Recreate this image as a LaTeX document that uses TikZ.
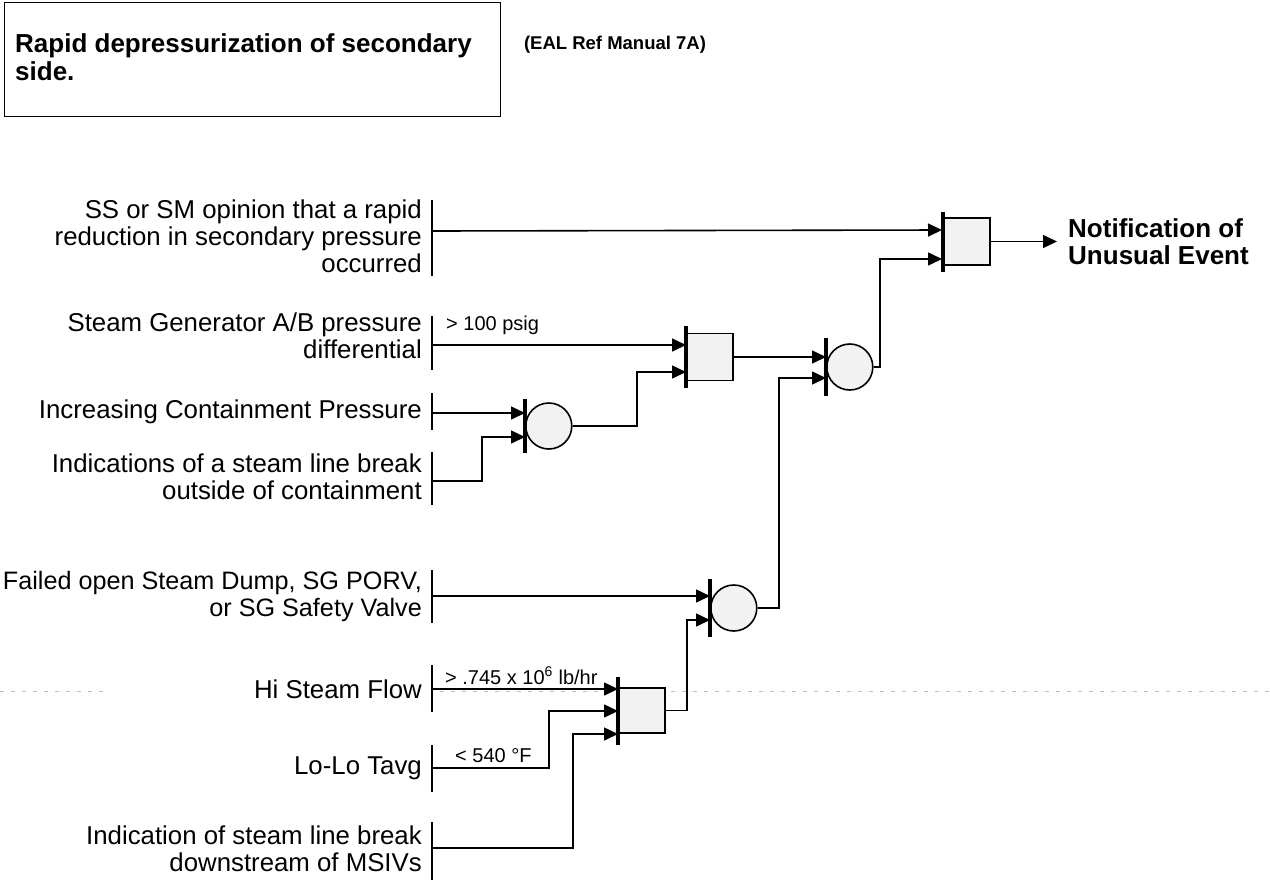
\documentclass[tikz,border=0pt]{standalone}
\usepackage{fontspec}
\setmainfont{Liberation Sans}
\usetikzlibrary{arrows.meta,calc}
\begin{document}
\begin{tikzpicture}[x=1pt,y=-1pt,
  lab/.style={font=\fontsize{25.8}{27}\selectfont, align=right, anchor=east, inner sep=0},
  small/.style={font=\fontsize{20}{24}\selectfont, anchor=base west, inner sep=0},
  boldtxt/.style={font=\fontsize{26}{28}\selectfont\bfseries, inner sep=0},
  wire/.style={line width=1.6pt, -{Triangle[length=14pt,width=13pt]}},
  inbar/.style={line width=1.8pt},
  gbar/.style={line width=3.2pt},
  andg/.style={draw, line width=1.6pt, fill=gray!10, minimum width=46pt, minimum height=47pt, inner sep=0, anchor=west},
  org/.style={draw, circle, line width=1.6pt, fill=gray!10, minimum size=46pt, inner sep=0, anchor=west},
  fold/.style={gray!50, line width=0.6pt, dash pattern=on 4pt off 7pt},
]
\useasboundingbox (0,0) rectangle (1270,879);

% title box
\node[draw, line width=1pt, minimum width=496pt, minimum height=114pt, anchor=north west, inner sep=0] (tbox) at (4,2) {};
\node[boldtxt, anchor=north west, align=left] (ttext) at (15,33) {Rapid depressurization of secondary\\side.};
\node[boldtxt, font=\fontsize{18.5}{22}\selectfont\bfseries] (eal) at (615,45) {(EAL Ref Manual 7A)};

% faint fold line
\draw[fold] (0,691) -- (110,691);
\draw[fold] (440,691) -- (1270,691);

% gates
\node[andg] (g1) at (943,241.5) {};
\node[andg] (g2) at (686,357) {};
\node[org] (o3) at (826,367) {};
\node[org] (o1) at (525,426) {};
\node[org] (o4) at (710,608) {};
\node[andg, minimum height=45pt] (g5) at (618,710.5) {};
\foreach \g/\h in {g1/30, g2/31, o3/29, o1/27, o4/29, g5/34}
  \draw[gbar] ([yshift=\h pt]\g.west) -- ([yshift=-\h pt]\g.west);

% gate inputs
\coordinate (g1a) at (942,230);
\coordinate (g1b) at (942,259);
\coordinate (g2a) at (686,345);
\coordinate (g2b) at (686,372);
\coordinate (o3a) at (826,357);
\coordinate (o3b) at (826,378);
\coordinate (o1a) at (525,413);
\coordinate (o1b) at (525,437);
\coordinate (o4a) at (710,596);
\coordinate (o4b) at (710,620);
\coordinate (g5a) at (618,689);
\coordinate (g5b) at (618,711);
\coordinate (g5c) at (618,734);

% input labels
\node[lab] (t1) at (422,236) {SS or SM opinion that a rapid\\reduction in secondary pressure\\occurred};
\node[lab] (t2) at (422,336) {Steam Generator A/B pressure\\differential};
\node[lab] (t3) at (422,412) {Increasing Containment Pressure};
\node[lab] (t4) at (422,477) {Indications of a steam line break\\outside of containment};
\node[lab, font=\fontsize{25.2}{27}\selectfont] (t5) at (422,596) {Failed open Steam Dump, SG PORV,\\or SG Safety Valve};
\node[lab] (t6) at (422,689) {Hi Steam Flow};
\node[lab] (t7) at (422,768) {Lo-Lo Tavg};
\node[lab] (t8) at (422,849) {Indication of steam line break\\downstream of MSIVs};

% input bars
\draw[inbar] (432,200) -- (432,276);
\draw[inbar] (432,316) -- (432,370);
\draw[inbar] (432,393) -- (432,430);
\draw[inbar] (432,452) -- (432,505);
\draw[inbar] (432,570) -- (432,623);
\draw[inbar] (432,665) -- (432,712);
\draw[inbar] (432,745) -- (432,792);
\draw[inbar] (432,822) -- (432,880);

\coordinate (s1) at (432,231);
\coordinate (s2) at (432,345);
\coordinate (s3) at (432,413);
\coordinate (s4) at (432,481);
\coordinate (s5) at (432,596);
\coordinate (s6) at (432,689);
\coordinate (s7) at (432,768);
\coordinate (s8) at (432,848);

% threshold labels
\node[small] (l2) at (446,330) {> 100 psig};
\node[small] (l6) at (445,684) {> .745 x 10\textsuperscript{6} lb/hr};
\node[small] (l7) at (455,762) {< 540 °F};

% output
\node[boldtxt, font=\fontsize{26}{27}\selectfont\bfseries, anchor=west, align=left] (note) at (1068,241.5) {Notification of\\Unusual Event};

% connectors
\draw[wire] (s1) -- (g1a);
\draw[wire] (s2) -- (g2a);
\draw[wire] (s3) -- (o1a);
\draw[wire] (s4) -| ($(o1b)+(-43,0)$) -- (o1b);
\draw[wire] (o1.east) -| ($(g2b)+(-49,0)$) -- (g2b);
\draw[wire] (g2.east) -- (o3a);
\draw[wire] (o3.east) -| ($(g1b)+(-62,0)$) -- (g1b);
\draw[wire] (s5) -- (o4a);
\draw[wire] (o4.east) -| ($(o3b)+(-47,0)$) -- (o3b);
\draw[wire] (s6) -- (g5a);
\draw[wire] (s7) -| ($(g5b)+(-69,0)$) -- (g5b);
\draw[wire] (s8) -| ($(g5c)+(-45,0)$) -- (g5c);
\draw[wire] (g5.east) -| ($(o4b)+(-23,0)$) -- (o4b);
\draw[wire] (g1.east) -- ([xshift=-11pt]note.west);
\end{tikzpicture}
\end{document}
